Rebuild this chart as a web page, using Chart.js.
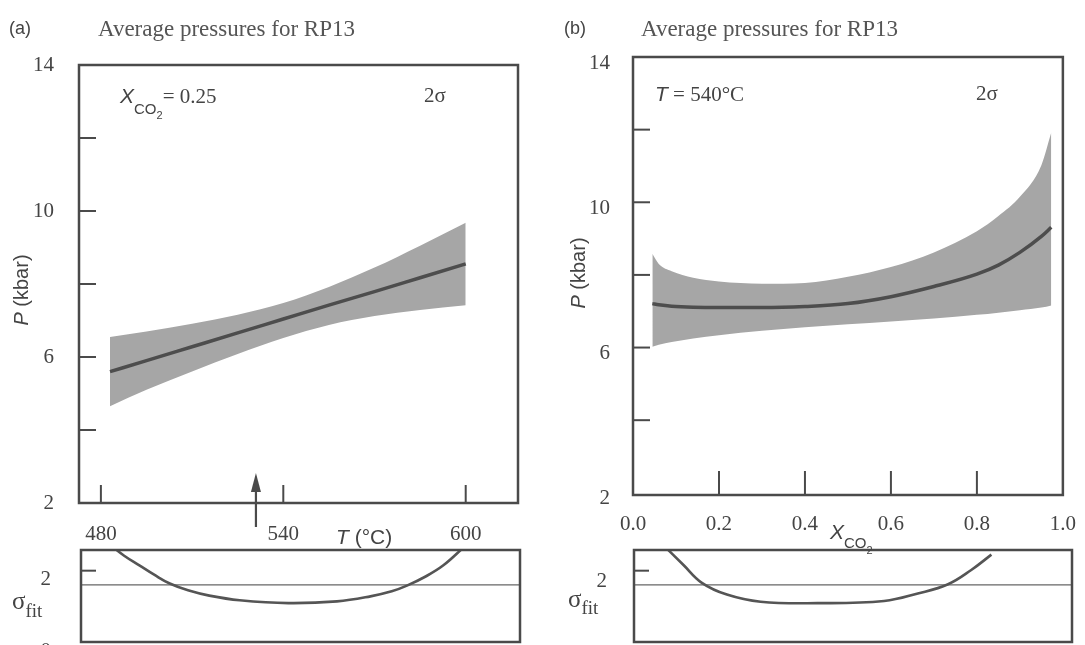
<!DOCTYPE html>
<html>
<head>
<meta charset="utf-8">
<script src="https://cdn.jsdelivr.net/npm/chart.js@4.4.1/dist/chart.umd.min.js"></script>
<style>
  body { margin: 0; background: #fff; }
  #wrap { position: relative; width: 1085px; height: 645px; overflow: hidden; background: #fff; }
  canvas { position: absolute; }
  .t { position: absolute; color: #444; white-space: nowrap; line-height: 1; }
  .serif { font-family: "Liberation Serif", serif; }
  .sans { font-family: "Liberation Sans", sans-serif; }
  .rot { transform: translate(-50%, -50%) rotate(-90deg); }
</style>
</head>
<body>
<div id="wrap">
  <canvas id="cA" width="540" height="545" style="left:0px;top:0px"></canvas>
  <canvas id="cAs" width="540" height="100" style="left:0px;top:545px"></canvas>
  <canvas id="cB" width="540" height="545" style="left:545px;top:0px"></canvas>
  <canvas id="cBs" width="540" height="100" style="left:545px;top:545px"></canvas>

  <div class="t sans" style="left:9px;top:19px;font-size:18px">(a)</div>
  <div class="t serif" style="left:98px;top:17px;font-size:23px;color:#555">Average pressures for RP13</div>
  <div class="t sans" style="left:564px;top:19px;font-size:18px">(b)</div>
  <div class="t serif" style="left:641px;top:17px;font-size:23px;color:#555">Average pressures for RP13</div>

  <div class="t" style="left:120px;top:85px;font-size:21px"><i class="sans">X</i><span class="sans" style="font-size:15px;position:relative;top:11px">CO<span style="font-size:11px;position:relative;top:5px">2</span></span><span class="serif">= 0.25</span></div>
  <div class="t serif" style="left:424px;top:85px;font-size:21px">2σ</div>
  <div class="t" style="left:655px;top:83px;font-size:21px"><i class="sans">T</i><span class="serif"> = 540°C</span></div>
  <div class="t serif" style="left:976px;top:83px;font-size:21px">2σ</div>

  <div class="t sans rot" style="left:21px;top:290px;font-size:20px"><i>P</i> (kbar)</div>
  <div class="t sans rot" style="left:578px;top:273px;font-size:20px"><i>P</i> (kbar)</div>
  <div class="t sans" style="left:336px;top:526px;font-size:21px"><i>T</i> (°C)</div>
  <div class="t" style="left:830px;top:521px;font-size:21px"><i class="sans">X</i><span class="sans" style="font-size:15px;position:relative;top:9px">CO<span style="font-size:11px;position:relative;top:6px">2</span></span></div>

  <div class="t serif" style="left:12px;top:588px;font-size:25px">σ<span style="font-size:19px;position:relative;top:8px">fit</span></div>
  <div class="t serif" style="left:568px;top:586px;font-size:25px">σ<span style="font-size:19px;position:relative;top:7px">fit</span></div>
</div>
<script>
// (a) P-T at X_CO2 = 0.25
const tempA  = [483, 495, 510, 525, 540, 555, 570, 585, 600];
const pressA = [5.60, 5.90, 6.28, 6.66, 7.04, 7.42, 7.79, 8.17, 8.55];
const upperA = [6.55, 6.70, 6.91, 7.16, 7.48, 7.92, 8.45, 9.05, 9.68];
const lowerA = [4.65, 5.10, 5.60, 6.08, 6.52, 6.88, 7.12, 7.29, 7.42];

// (b) P-X_CO2 at T = 540 C
const xco2B  = [0.045, 0.06, 0.09, 0.14, 0.2, 0.3, 0.4, 0.5, 0.6, 0.7, 0.8, 0.85, 0.9, 0.95, 0.973];
const pressB = [7.21, 7.18, 7.14, 7.11, 7.10, 7.10, 7.13, 7.21, 7.40, 7.68, 8.02, 8.27, 8.62, 9.06, 9.31];
const upperB = [8.58, 8.30, 8.10, 7.92, 7.82, 7.76, 7.78, 7.95, 8.22, 8.62, 9.20, 9.62, 10.15, 11.02, 11.92];
const lowerB = [6.02, 6.08, 6.15, 6.25, 6.34, 6.46, 6.56, 6.64, 6.72, 6.80, 6.90, 6.96, 7.03, 7.10, 7.16];

// sigma fit panels
const tempSigA  = [482, 487, 492, 497, 502, 508, 515, 525, 541, 557, 568, 575, 580, 586, 592, 599];
const sigmaA    = [2.75, 2.42, 2.15, 1.88, 1.64, 1.45, 1.30, 1.17, 1.09, 1.14, 1.28, 1.42, 1.58, 1.83, 2.15, 2.68];
const xco2SigB  = [0.065, 0.113, 0.155, 0.212, 0.289, 0.419, 0.571, 0.648, 0.717, 0.770, 0.816];
const sigmaB    = [2.74, 2.16, 1.66, 1.33, 1.13, 1.09, 1.15, 1.36, 1.62, 2.02, 2.45];
const sigmaLimit = 1.6;

// ticks
const pTicks = [2, 4, 6, 8, 10, 12, 14];
const pLabels = [2, 6, 10, 14];
const tTicksA = [480, 540, 600];
const xTicksB = [0, 0.2, 0.4, 0.6, 0.8, 1.0];
const arrowT = 531;

const ink = '#4a4a4a';
const bandColor = '#a6a6a6';
const tickFont = { family: 'Liberation Serif', size: 21 };

const pts = (xs, ys) => xs.map((x, i) => ({ x, y: ys[i] }));

const frameAndTicks = {
  id: 'frameAndTicks',
  afterDatasetsDraw(chart, args, o) {
    const { ctx, chartArea: a, scales } = chart;
    ctx.save();
    ctx.strokeStyle = ink;
    ctx.lineWidth = 2;
    (o.xTicks || []).forEach(v => {
      const px = scales.x.getPixelForValue(v);
      ctx.beginPath(); ctx.moveTo(px, a.bottom); ctx.lineTo(px, a.bottom - o.xLen); ctx.stroke();
    });
    (o.yTicks || []).forEach(v => {
      const py = scales.y.getPixelForValue(v);
      ctx.beginPath(); ctx.moveTo(a.left, py); ctx.lineTo(a.left + o.yLen, py); ctx.stroke();
    });
    ctx.lineWidth = 2.5;
    ctx.strokeRect(a.left, a.top, a.right - a.left, a.bottom - a.top);
    ctx.restore();
  }
};

const arrowMark = {
  id: 'arrowMark',
  afterDraw(chart, args, o) {
    if (!o.at) return;
    const { ctx, chartArea: a, scales } = chart;
    const x = scales.x.getPixelForValue(o.at);
    const tip = scales.y.getPixelForValue(o.tipP);
    ctx.save();
    ctx.strokeStyle = ink; ctx.fillStyle = ink; ctx.lineWidth = 2.2;
    ctx.beginPath(); ctx.moveTo(x, a.bottom + o.below); ctx.lineTo(x, tip + 12); ctx.stroke();
    ctx.beginPath(); ctx.moveTo(x, tip); ctx.lineTo(x - 5, tip + 19); ctx.lineTo(x + 5, tip + 19); ctx.closePath(); ctx.fill();
    ctx.restore();
  }
};

// y axis keeps its fixed width and adds no extra top/bottom room for labels
const fixY = w => s => { s.width = w; s.paddingTop = 0; s.paddingBottom = 0; };

function mainChart(id, d, cfg) {
  return new Chart(document.getElementById(id), {
    type: 'line',
    data: {
      datasets: [
        // first dataset is drawn on top
        { data: pts(d.x, d.mid), borderColor: '#4d4d4d', borderWidth: 3.5, pointRadius: 0, fill: false },
        { data: pts(d.x, d.low), borderWidth: 0, pointRadius: 0, fill: false },
        { data: pts(d.x, d.high), borderWidth: 0, pointRadius: 0, backgroundColor: bandColor, fill: 1 }
      ]
    },
    options: {
      responsive: false, animation: false, devicePixelRatio: 1,
      layout: { padding: cfg.padding },
      elements: { line: { cubicInterpolationMode: 'monotone' } },
      plugins: {
        legend: { display: false }, tooltip: { enabled: false },
        frameAndTicks: { xTicks: cfg.xInner, xLen: cfg.xLen, yTicks: [4, 6, 8, 10, 12], yLen: 17 },
        arrowMark: cfg.arrow || {}
      },
      scales: {
        x: {
          type: 'linear', min: cfg.xMin, max: cfg.xMax,
          grid: { display: false }, border: { display: false },
          afterBuildTicks: s => { s.ticks = cfg.xTicks.map(v => ({ value: v })); },
          afterFit: s => { s.height = cfg.xHeight; },
          ticks: { font: tickFont, color: '#444', padding: cfg.xPad, autoSkip: false, maxRotation: 0,
                   callback: cfg.xFmt }
        },
        y: {
          min: cfg.yMin, max: 14,
          grid: { display: false }, border: { display: false },
          afterBuildTicks: s => { s.ticks = pTicks.map(v => ({ value: v })); },
          afterFit: fixY(cfg.yWidth),
          ticks: { font: tickFont, color: '#444', padding: cfg.yPad, labelOffset: cfg.yOff,
                   callback: v => pLabels.includes(v) ? String(v) : '' }
        }
      }
    },
    plugins: [frameAndTicks, arrowMark]
  });
}

function sigmaChart(id, xs, ys, cfg) {
  return new Chart(document.getElementById(id), {
    type: 'line',
    data: {
      datasets: [
        { data: pts(xs, ys), borderColor: '#555', borderWidth: 2.6, pointRadius: 0, fill: false,
          tension: 0.4 },
        { data: [{ x: cfg.xMin, y: sigmaLimit }, { x: cfg.xMax, y: sigmaLimit }],
          borderColor: '#666', borderWidth: 1.3, pointRadius: 0, fill: false }
      ]
    },
    options: {
      responsive: false, animation: false, devicePixelRatio: 1,
      layout: { padding: cfg.padding },
      plugins: {
        legend: { display: false }, tooltip: { enabled: false },
        frameAndTicks: { xTicks: [], xLen: 0, yTicks: [2], yLen: 15 }
      },
      scales: {
        x: { type: 'linear', min: cfg.xMin, max: cfg.xMax, display: false },
        y: {
          min: 0, max: 2.58,
          grid: { display: false }, border: { display: false },
          afterBuildTicks: s => { s.ticks = [0, 2].map(v => ({ value: v })); },
          afterFit: fixY(cfg.yWidth),
          ticks: { font: tickFont, color: '#444', padding: cfg.yPad, labelOffset: cfg.yOff }
        }
      }
    },
    plugins: [frameAndTicks]
  });
}

mainChart('cA', { x: tempA, mid: pressA, high: upperA, low: lowerA }, {
  padding: { left: 0, right: 22, top: 65, bottom: 0 },
  xMin: 472.8, xMax: 617.2, xTicks: tTicksA, xInner: tTicksA, xLen: 18,
  xHeight: 42, xPad: 11, yMin: 2, yWidth: 79, yPad: 17, yOff: 0,
  xFmt: v => String(v),
  arrow: { at: arrowT, tipP: 2.82, below: 24 }
});

mainChart('cB', { x: xco2B, mid: pressB, high: upperB, low: lowerB }, {
  padding: { left: 0, right: 15, top: 57, bottom: 0 },
  xMin: 0, xMax: 1, xTicks: xTicksB, xInner: [0.2, 0.4, 0.6, 0.8], xLen: 24,
  xHeight: 50, xPad: 9, yMin: 1.94, yWidth: 88, yPad: 15, yOff: 6,
  xFmt: v => v.toFixed(1)
});

sigmaChart('cAs', tempSigA, sigmaA, {
  padding: { left: 0, right: 20, top: 5, bottom: 3 },
  xMin: 472.8, xMax: 617.2, yWidth: 81, yPad: 22, yOff: 9
});

sigmaChart('cBs', xco2SigB, sigmaB, {
  padding: { left: 0, right: 13, top: 5, bottom: 3 },
  xMin: 0, xMax: 1, yWidth: 89, yPad: 19, yOff: 11
});
</script>
</body>
</html>
